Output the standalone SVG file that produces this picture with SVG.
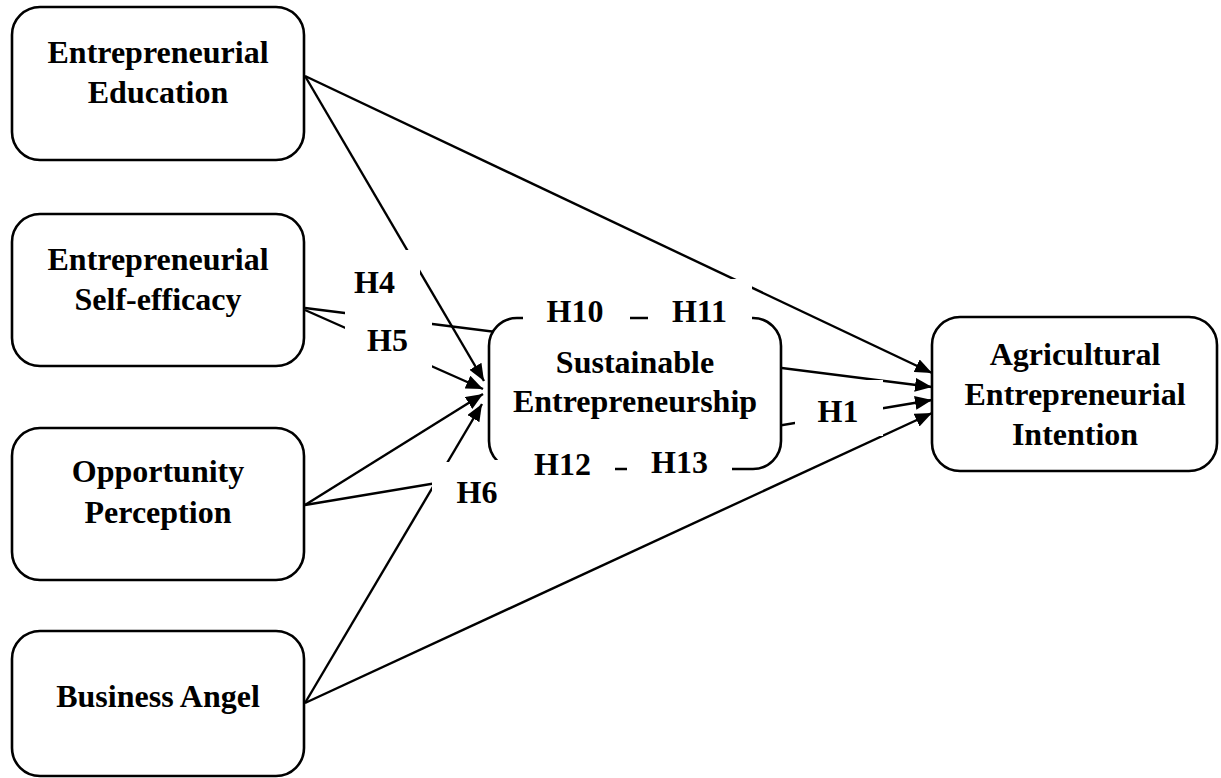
<svg xmlns="http://www.w3.org/2000/svg" width="1221" height="778" viewBox="0 0 1221 778">
<style>
.box{fill:#fff;stroke:#000;stroke-width:2.6}
.t{font-family:"Liberation Serif","Times New Roman",serif;font-weight:bold;font-size:32px;text-anchor:middle;fill:#000}
.ln{stroke:#000;stroke-width:2.4;fill:none}
.mask{fill:#fff;stroke:none}
</style>
<defs>
<marker id="ah" markerUnits="userSpaceOnUse" markerWidth="18" markerHeight="14" refX="17" refY="7" orient="auto">
<path d="M0,0 L17,7 L0,14 z" fill="#000"/>
</marker>
</defs>
<rect width="1221" height="778" fill="#fff"/>
<g id="connectors">
<line class="ln" x1="305" y1="76" x2="484" y2="381" marker-end="url(#ah)"/>
<line class="ln" x1="305" y1="76" x2="932" y2="373" marker-end="url(#ah)"/>
<line class="ln" x1="305" y1="308" x2="932" y2="387" marker-end="url(#ah)"/>
<line class="ln" x1="305" y1="310" x2="483" y2="389" marker-end="url(#ah)"/>
<line class="ln" x1="305" y1="505" x2="483" y2="394" marker-end="url(#ah)"/>
<line class="ln" x1="305" y1="505" x2="932" y2="400" marker-end="url(#ah)"/>
<line class="ln" x1="305" y1="703" x2="482" y2="404" marker-end="url(#ah)"/>
<line class="ln" x1="305" y1="703" x2="932" y2="413" marker-end="url(#ah)"/>
</g>
<g id="n-ee">
<rect class="box" x="12" y="7" width="292" height="153" rx="28"/>
<text class="t" x="158" y="63">Entrepreneurial</text>
<text class="t" x="158" y="103">Education</text>
</g>
<g id="n-ese">
<rect class="box" x="12" y="214" width="292" height="152" rx="28"/>
<text class="t" x="158" y="270">Entrepreneurial</text>
<text class="t" x="158" y="310">Self-efficacy</text>
</g>
<g id="n-op">
<rect class="box" x="12" y="428" width="292" height="152" rx="28"/>
<text class="t" x="158" y="482">Opportunity</text>
<text class="t" x="158" y="523">Perception</text>
</g>
<g id="n-ba">
<rect class="box" x="12" y="631" width="292" height="145" rx="28"/>
<text class="t" x="158" y="707">Business Angel</text>
</g>
<g id="n-se">
<rect class="box" x="489" y="318" width="292" height="151" rx="28"/>
<text class="t" x="635" y="373">Sustainable</text>
<text class="t" x="635" y="412">Entrepreneurship</text>
</g>
<g id="n-aei">
<rect class="box" x="932" y="317" width="285" height="154" rx="28"/>
<text class="t" x="1075" y="365">Agricultural</text>
<text class="t" x="1075" y="405">Entrepreneurial</text>
<text class="t" x="1075" y="445">Intention</text>
</g>
<g id="labels">
<rect class="mask" x="345" y="250" width="75" height="48"/>
<text class="t" x="374.5" y="293">H4</text>
<rect class="mask" x="345" y="298" width="87" height="70"/>
<text class="t" x="387.5" y="351">H5</text>
<rect class="mask" x="523" y="279" width="107" height="52"/>
<text class="t" x="575" y="322">H10</text>
<rect class="mask" x="648" y="279" width="104" height="52"/>
<text class="t" x="699.5" y="322">H11</text>
<rect class="mask" x="482" y="460" width="133" height="30"/>
<text class="t" x="562.5" y="475">H12</text>
<rect class="mask" x="627" y="455" width="105" height="35"/>
<text class="t" x="679.5" y="473">H13</text>
<rect class="mask" x="432" y="462" width="78" height="48"/>
<text class="t" x="477" y="503">H6</text>
<rect class="mask" x="795" y="380" width="88" height="56"/>
<text class="t" x="838" y="422">H1</text>
</g>
</svg>
